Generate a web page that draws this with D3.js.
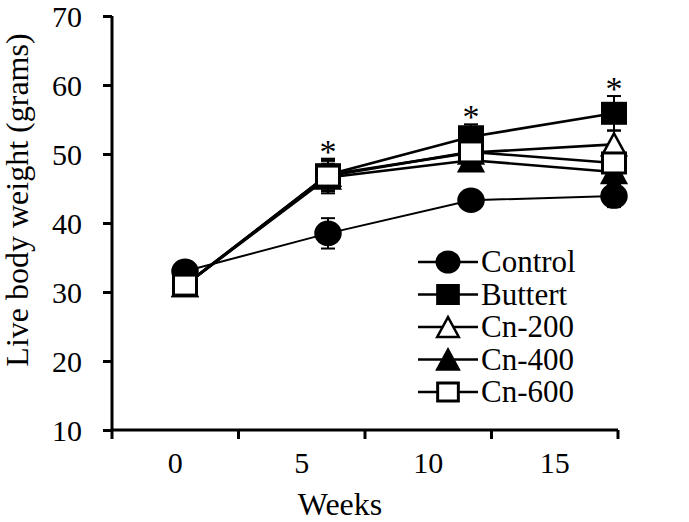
<!DOCTYPE html>
<html><head><meta charset="utf-8">
<script src="https://cdn.jsdelivr.net/npm/d3@7"></script>
<style>body{margin:0;background:#fff}svg{display:block}text{font-family:"Liberation Serif","Tinos","DejaVu Serif","Noto Serif",serif;fill:#000}</style>
</head><body><svg id="c" width="689" height="522"></svg>
<script>
const weeks = [0, 5, 10, 15];
const weekLabels = ["0", "5", "10", "15"];
const yTicks = [10, 20, 30, 40, 50, 60, 70];
const seriesNames = ["Control", "Buttert", "Cn-200", "Cn-400", "Cn-600"];
const control = [33, 38.5, 43.3, 43.9];
const controlErr = [0.8, 2.2, 1.0, 1.6];
const buttert = [31, 47, 52.5, 55.9];
const buttertErr = [0.8, 2.3, 1.8, 2.5];
const cn200 = [31, 47, 50.2, 51.4];
const cn200Err = [0.8, 2.0, 1.5, 2.0];
const cn400 = [31, 46.6, 49.1, 47.4];
const cn400Err = [0.8, 2.0, 1.5, 1.6];
const cn600 = [31, 46.8, 50.3, 48.7];
const cn600Err = [0.8, 2.5, 1.5, 2.0];
const significant = [false, true, true, true];

const FONT = '"Liberation Serif","Tinos","DejaVu Serif","Noto Serif",serif';
const series = [
  {name: seriesNames[0], vals: control, err: controlErr, shape: "circle", fill: "#000", lw: 2},
  {name: seriesNames[1], vals: buttert, err: buttertErr, shape: "square", fill: "#000", lw: 2.6},
  {name: seriesNames[2], vals: cn200, err: cn200Err, shape: "triangle", fill: "#fff", lw: 2.6},
  {name: seriesNames[3], vals: cn400, err: cn400Err, shape: "triangle", fill: "#000", lw: 2.6},
  {name: seriesNames[4], vals: cn600, err: cn600Err, shape: "square", fill: "#fff", lw: 2.6}
];

const svg = d3.select("#c");
const y = d3.scaleLinear().domain([10, 70]).range([430, 16]);
const xBand = d3.scaleBand().domain(weekLabels).range([112, 618]);
const x = d3.scaleLinear().domain([0, 15]).range([185, 614]);

const yAxis = svg.append("g").attr("transform", "translate(112,0)")
  .call(d3.axisLeft(y).tickValues(yTicks).tickSize(9).tickPadding(21).tickFormat(d3.format("d")));
yAxis.attr("font-family", FONT);
yAxis.select(".domain").attr("stroke", "#000").attr("stroke-width", 3).attr("d", `M0,${y(70)}V${y(10)}`);
yAxis.selectAll(".tick line").attr("stroke", "#000").attr("stroke-width", 3);
yAxis.selectAll(".tick text").style("font-size", "30px").style("font-family", FONT).attr("dy", "0.36em");

const xAxis = svg.append("g").attr("transform", "translate(0,430)")
  .call(d3.axisBottom(xBand).tickSize(0).tickPadding(22));
xAxis.attr("font-family", FONT);
xAxis.select(".domain").attr("stroke", "#000").attr("stroke-width", 3).attr("d", `M112,0H618`);
xAxis.selectAll(".tick text").style("font-size", "30px").style("font-family", FONT).attr("dy", "0.71em");
const bounds = weekLabels.map(d => xBand(d)).concat([xBand.range()[1]]);
xAxis.selectAll("line.sep").data(bounds).enter().append("line").attr("class", "sep")
  .attr("x1", d => d).attr("x2", d => d).attr("y1", 0).attr("y2", 9)
  .attr("stroke", "#000").attr("stroke-width", 3);

svg.append("text").attr("x", 340).attr("y", 515).attr("text-anchor", "middle")
  .style("font-size", "32px").style("font-family", FONT).text("Weeks");
svg.append("text").attr("transform", "translate(28,200) rotate(-90)").attr("text-anchor", "middle")
  .style("font-size", "32px").style("font-family", FONT).text("Live body weight (grams)");

function drawMarker(g, shape, fill, s) {
  if (shape === "circle") {
    g.append("ellipse").attr("rx", 12.5 * s).attr("ry", 11.5 * s).attr("fill", fill).attr("stroke", "#000").attr("stroke-width", 2.5);
  } else if (shape === "square") {
    g.append("rect").attr("x", -11.5 * s).attr("y", -10 * s).attr("width", 23 * s).attr("height", 20 * s)
      .attr("fill", fill).attr("stroke", "#000").attr("stroke-width", 3);
  } else {
    const w = 12 * s, h = 11 * s;
    g.append("path").attr("d", `M0,${-h}L${w},${h}L${-w},${h}Z`).attr("fill", fill)
      .attr("stroke", "#000").attr("stroke-width", 2.5).attr("stroke-linejoin", "miter");
  }
}

const line = d3.line().x((d, i) => x(weeks[i])).y(d => y(d));
series.forEach(s => {
  const eg = svg.append("g");
  s.vals.forEach((v, i) => {
    const cx = x(weeks[i]);
    eg.append("line").attr("x1", cx).attr("x2", cx).attr("y1", y(v - s.err[i])).attr("y2", y(v + s.err[i])).attr("stroke", "#000").attr("stroke-width", 2);
    [v - s.err[i], v + s.err[i]].forEach(e => eg.append("line").attr("x1", cx - 7).attr("x2", cx + 7)
      .attr("y1", y(e)).attr("y2", y(e)).attr("stroke", "#000").attr("stroke-width", 2));
  });
  svg.append("path").attr("d", line(s.vals)).attr("fill", "none").attr("stroke", "#000").attr("stroke-width", s.lw);
});
series.forEach(s => {
  s.vals.forEach((v, i) => {
    const g = svg.append("g").attr("transform", `translate(${x(weeks[i])},${y(v)})`);
    drawMarker(g, s.shape, s.fill, 1);
  });
});

weeks.forEach((w, i) => {
  if (!significant[i]) return;
  const top = d3.max(series, s => s.vals[i] + s.err[i]);
  svg.append("text").attr("x", x(w)).attr("y", y(top) + 4).attr("text-anchor", "middle")
    .style("font-size", "34px").style("font-family", FONT).text("*");
});

const leg = svg.append("g");
series.forEach((s, i) => {
  const g = leg.append("g").attr("transform", `translate(0,${262 + i * 32.5})`);
  g.append("line").attr("x1", 418).attr("x2", 478).attr("stroke", "#000").attr("stroke-width", 2.5);
  const m = g.append("g").attr("transform", "translate(448,0)");
  drawMarker(m, s.shape, s.fill, 0.9);
  g.append("text").attr("x", 481).attr("y", 0).attr("dy", "0.33em").style("font-size", "31px").style("font-family", FONT).text(s.name);
});
</script></body></html>
